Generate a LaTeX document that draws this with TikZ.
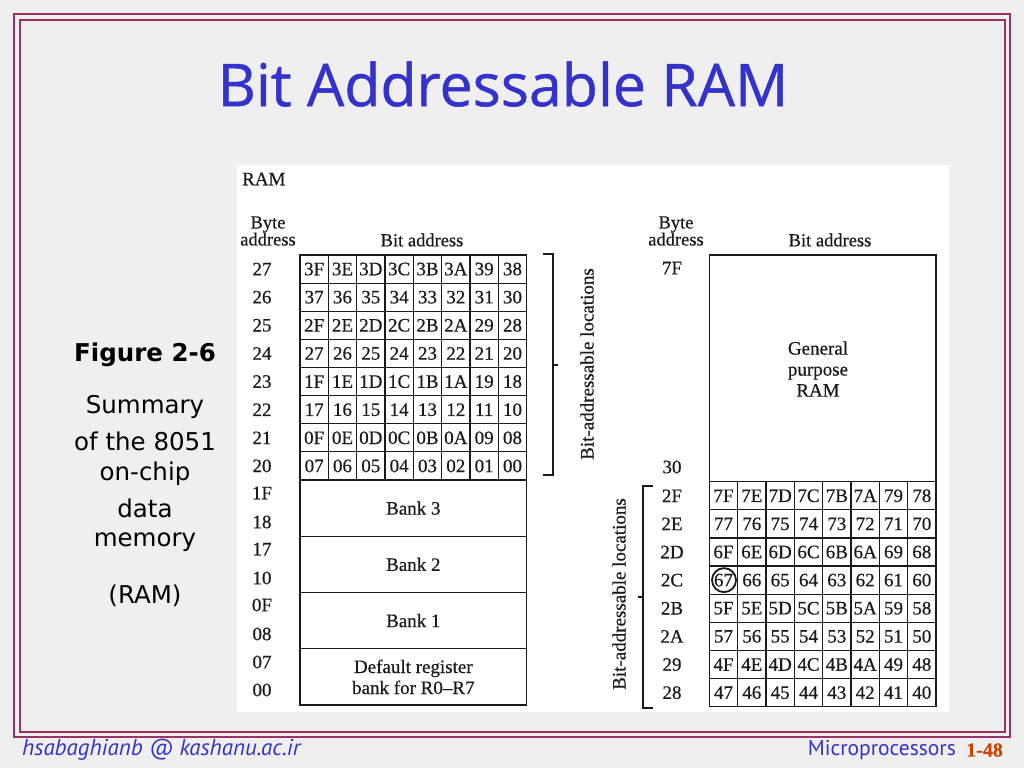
\documentclass[tikz,border=0pt]{standalone}
\usepackage{fontspec}
\setmainfont[FakeBold=0.5]{Liberation Serif}
\newfontfamily\titlefont[FakeBold=0.8]{Open Sans}
\newfontfamily\sidefont{DejaVu Sans}
\newfontfamily\footfont{PT Sans}
\definecolor{bgc}{HTML}{EFEFEF}
\definecolor{framec}{HTML}{993366}
\definecolor{titleblue}{HTML}{3333CC}
\definecolor{pagenum}{HTML}{CC4400}
\definecolor{inkc}{HTML}{1A1A1A}
\tikzset{
  cellbox/.style={draw=inkc, line width=1.2, minimum width=28.33, minimum height=28.125, inner sep=0, font=\fontsize{19}{19}\selectfont, text=inkc},
  bankbox/.style={draw=inkc, line width=1.2, minimum width=226.67, minimum height=56.25, inner sep=0, align=center, font=\fontsize{19}{21}\selectfont, text=inkc},
  lbl/.style={inner sep=0, font=\fontsize{19}{19}\selectfont, text=inkc},
  hdr/.style={inner sep=0, align=center, font=\fontsize{18.5}{18}\selectfont, text=inkc},
  brk/.style={draw=inkc, line width=1.3},
  side/.style={inner sep=0, font=\sidefont\fontsize{24.5}{24.5}\selectfont, text=black}
}
\begin{document}
\begin{tikzpicture}[x=1pt,y=-1pt]
\useasboundingbox (0,0) rectangle (1024,768);
\fill[bgc] (0,0) rectangle (1024,768);
\draw[framec, line width=2.2] (14,14) rectangle (1010,737);
\draw[framec, line width=2.5] (20,20) rectangle (1005,732);
\fill[white] (237,165) rectangle (949,712);

% title
\node[inner sep=0, text=titleblue, font=\titlefont\fontsize{59}{64}\selectfont] (title) at (503,84) {Bit Addressable RAM};

% side text
\node[side, font=\sidefont\bfseries\fontsize{24.5}{24.5}\selectfont] (fig) at (145,355) {Figure 2-6};
\node[side] (s1) at (145,407) {Summary};
\node[side] (s2) at (145,441) {of the 8051};
\node[side] (s3) at (145,474) {on-chip};
\node[side] (s4) at (145,508) {data};
\node[side] (s5) at (145,542) {memory};
\node[side] (s6) at (145,596) {(RAM)};

% ---------- left diagram ----------
\node[lbl, anchor=west] (ramhdr) at (242,179) {RAM};
\node[hdr] (lbyte) at (268,231) {Byte\\[-1pt]address};
\node[hdr] (lbit) at (422,240) {Bit address};

\foreach \r/\b/\cells in {
  0/27/{3F,3E,3D,3C,3B,3A,39,38},
  1/26/{37,36,35,34,33,32,31,30},
  2/25/{2F,2E,2D,2C,2B,2A,29,28},
  3/24/{27,26,25,24,23,22,21,20},
  4/23/{1F,1E,1D,1C,1B,1A,19,18},
  5/22/{17,16,15,14,13,12,11,10},
  6/21/{0F,0E,0D,0C,0B,0A,09,08},
  7/20/{07,06,05,04,03,02,01,00}}{
  \node[lbl] (LB-\r) at (262,{255+14.06+28.125*\r}) {\b};
  \foreach \c [count=\i from 0] in \cells {
    \node[cellbox] (L-\r-\i) at ({300+14.17+28.333*\i},{255+14.06+28.125*\r}) {\c};
  }
}
\node[bankbox] (bank3) at (413.33,508.1) {Bank 3};
\node[bankbox] (bank2) at (413.33,564.4) {Bank 2};
\node[bankbox] (bank1) at (413.33,620.6) {Bank 1};
\node[bankbox] (bank0) at (413.33,676.9) {Default register\\bank for R0--R7};
\node[lbl] (a1F) at (262,493) {1F};
\node[lbl] (a18) at (262,522) {18};
\node[lbl] (a17) at (262,549) {17};
\node[lbl] (a10) at (262,578) {10};
\node[lbl] (a0F) at (262,605) {0F};
\node[lbl] (a08) at (262,634) {08};
\node[lbl] (a07) at (262,662) {07};
\node[lbl] (a00) at (262,690) {00};

\draw[brk] (543,254) -- (553,254) -- (553,475) -- (543,475);
\draw[brk] (553,365) -- (558,365);
\node[lbl, rotate=90] (lbal) at (587,364) {Bit-addressable locations};

% ---------- right diagram ----------
\node[hdr] (rbyte) at (676,231) {Byte\\[-1pt]address};
\node[hdr] (rbit) at (830,240) {Bit address};
\node[draw=inkc, line width=1.2, minimum width=226.67, minimum height=226.7, inner sep=0] (gp) at (822.67,368.35) {};
\node[lbl, align=center, font=\fontsize{19}{21}\selectfont] (gptext) at (818,369) {General\\purpose\\RAM};
\node[lbl] (a7F) at (672,268) {7F};
\node[lbl] (a30) at (672,467) {30};

\foreach \r/\b/\cells in {
  0/2F/{7F,7E,7D,7C,7B,7A,79,78},
  1/2E/{77,76,75,74,73,72,71,70},
  2/2D/{6F,6E,6D,6C,6B,6A,69,68},
  3/2C/{67,66,65,64,63,62,61,60},
  4/2B/{5F,5E,5D,5C,5B,5A,59,58},
  5/2A/{57,56,55,54,53,52,51,50},
  6/29/{4F,4E,4D,4C,4B,4A,49,48},
  7/28/{47,46,45,44,43,42,41,40}}{
  \node[lbl] (RB-\r) at (672,{481.7+14.06+28.125*\r}) {\b};
  \foreach \c [count=\i from 0] in \cells {
    \node[cellbox] (R-\r-\i) at ({709.33+14.17+28.333*\i},{481.7+14.06+28.125*\r}) {\c};
  }
}
\node[circle, draw=inkc, line width=1.8, minimum size=24, inner sep=0] (circ67) at ([xshift=0.5pt]R-3-0.center) {};

\draw[brk] (653,486) -- (643,486) -- (643,708) -- (653,708);
\draw[brk] (643,597) -- (638,597);
\node[lbl, rotate=90] (rbal) at (619,594) {Bit-addressable locations};

% ---------- footer ----------
\node[inner sep=0, anchor=west, text=titleblue, font=\footfont\itshape\fontsize{23}{23}\selectfont] (mail) at (22,750) {hsabaghianb @ kashanu.ac.ir};
\node[inner sep=0, anchor=east, text=titleblue, font=\footfont\fontsize{21.5}{21.5}\selectfont] (course) at (956,750) {Microprocessors};
\node[inner sep=0, anchor=west, text=pagenum, font=\bfseries\fontsize{20}{20}\selectfont] (pg) at (966,750) {1-48};
\end{tikzpicture}
\end{document}
